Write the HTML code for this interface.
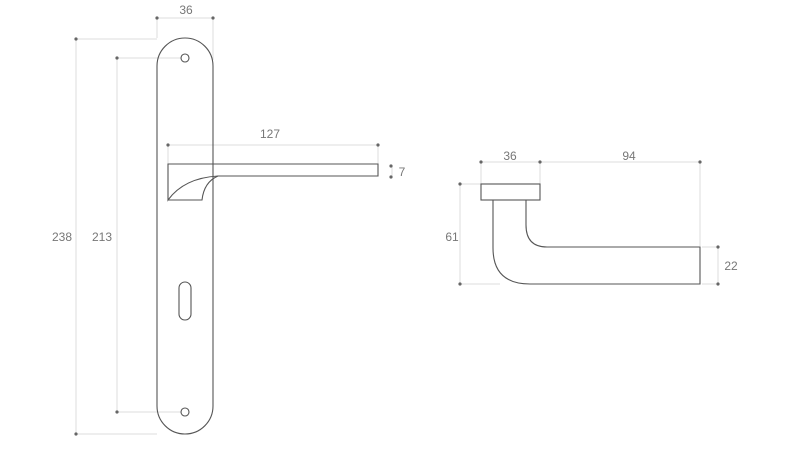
<!DOCTYPE html>
<html><head><style>body{margin:0;background:#fff}svg{display:block}text{font-family:"Liberation Sans",sans-serif;font-size:12px;fill:#777}</style></head><body>
<svg width="800" height="450" viewBox="0 0 800 450">
<g stroke="#ddd" stroke-width="1" fill="none">
<line x1="157" y1="18" x2="213" y2="18"/><line x1="157" y1="18" x2="157" y2="38"/><line x1="213" y1="18" x2="213" y2="60"/>
<line x1="76" y1="39" x2="157" y2="39"/><line x1="76" y1="39" x2="76" y2="434"/><line x1="76" y1="434" x2="157" y2="434"/>
<line x1="117" y1="58" x2="181" y2="58"/><line x1="117" y1="58" x2="117" y2="412"/><line x1="117" y1="412" x2="181" y2="412"/>
<line x1="168" y1="145" x2="378" y2="145"/><line x1="168" y1="145" x2="168" y2="164"/><line x1="378" y1="145" x2="378" y2="164"/>
<line x1="392" y1="166" x2="392" y2="177"/>
<line x1="481" y1="162" x2="700" y2="162"/><line x1="481" y1="162" x2="481" y2="184"/><line x1="540" y1="162" x2="540" y2="184"/><line x1="700" y1="162" x2="700" y2="246"/>
<line x1="460" y1="184" x2="481" y2="184"/><line x1="460" y1="184" x2="460" y2="284"/><line x1="460" y1="284" x2="500" y2="284"/>
<line x1="702" y1="247" x2="718" y2="247"/><line x1="718" y1="247" x2="718" y2="284"/><line x1="702" y1="284" x2="718" y2="284"/>
</g>
<g fill="#666">
<circle cx="157" cy="18" r="1.6"/><circle cx="213" cy="18" r="1.6"/>
<circle cx="76" cy="39" r="1.6"/><circle cx="76" cy="434" r="1.6"/>
<circle cx="117" cy="58" r="1.6"/><circle cx="117" cy="412" r="1.6"/>
<circle cx="168" cy="145" r="1.6"/><circle cx="378" cy="145" r="1.6"/>
<circle cx="391" cy="166" r="1.6"/><circle cx="391" cy="177" r="1.6"/>
<circle cx="481" cy="162" r="1.6"/><circle cx="540" cy="162" r="1.6"/><circle cx="700" cy="162" r="1.6"/>
<circle cx="460" cy="184" r="1.6"/><circle cx="460" cy="284" r="1.6"/>
<circle cx="718" cy="247" r="1.6"/><circle cx="718" cy="284" r="1.6"/>
</g>
<g stroke="#555" stroke-width="1.1" fill="none">
<path d="M157 66 A28 28 0 0 1 213 66 L213 406 A28 28 0 0 1 157 406 Z"/>
<circle cx="185" cy="58" r="4"/><circle cx="185" cy="412" r="4"/>
<rect x="179" y="282" width="12" height="38" rx="6"/>
<path d="M168 164 L378 164 L378 176 L218 176 Q184 178 168 200 Z"/>
<path d="M168 200 L202 200 Q204 182 218 176"/>
<rect x="481" y="184" width="59" height="16"/>
<path d="M493 200 L493 248 Q493 284 530 284 L700 284 L700 247 L547 247 Q526 247 526 225 L526 200"/>
</g>
<g text-anchor="middle">
<text x="186" y="14">36</text><text x="62" y="241">238</text><text x="102" y="241">213</text>
<text x="270" y="138">127</text><text x="402" y="176">7</text>
<text x="510" y="160">36</text><text x="629" y="160">94</text>
<text x="452" y="241">61</text><text x="731" y="270">22</text>
</g>
</svg>
</body></html>
